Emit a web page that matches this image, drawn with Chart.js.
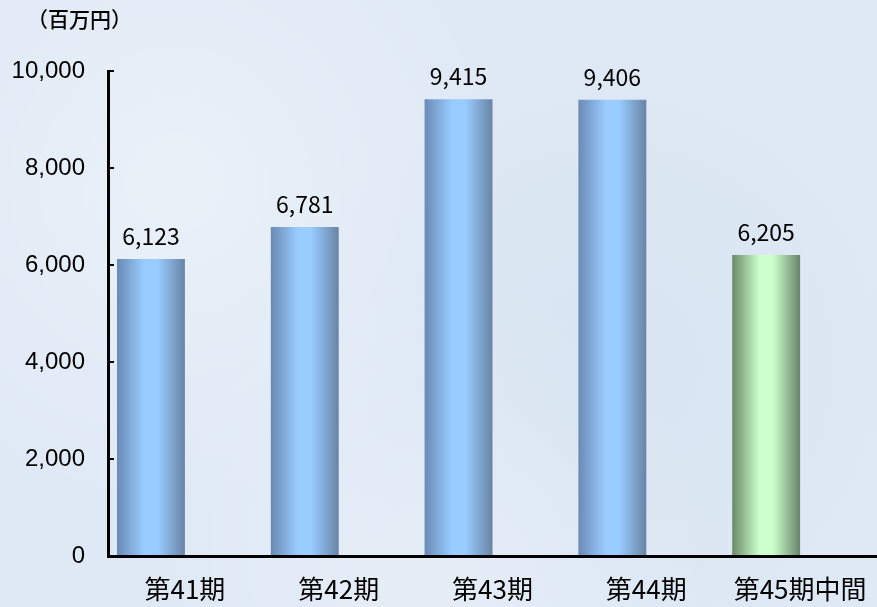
<!DOCTYPE html>
<html>
<head>
<meta charset="utf-8">
<script src="https://cdn.jsdelivr.net/npm/chart.js@4"></script>
<style>
    body { margin: 0; background: #e0eaf6; }
    #wrap { width: 877px; height: 607px; position: relative;
        background:
            radial-gradient(circle at 20% 30%, rgba(255,255,255,0.35), transparent 40%),
            radial-gradient(circle at 70% 60%, rgba(205,220,238,0.35), transparent 45%),
            radial-gradient(circle at 50% 90%, rgba(255,255,255,0.25), transparent 40%),
            #dfe9f5;
    }
</style>
</head>
<body>
<div id="wrap"><canvas id="salesChart"></canvas></div>
<script>
const periods = ['第41期', '第42期', '第43期', '第44期', '第45期中間'];
const sales = [6123, 6781, 9415, 9406, 6205];
const yTicks = [0, 2000, 4000, 6000, 8000, 10000];
const unitLabel = '（百万円）';

const blueStops = ['#6a8ab5', '#99ccff', '#6884a6'];
const greenStops = ['#6a8a6a', '#ccffcc', '#66846a'];

function fmt(v) {
    return v.toLocaleString('en-US');
}

// horizontal shading on each bar, done after layout so the bar position is known
const barShade = {
    id: 'barShade',
    beforeDatasetsDraw(chart) {
        const ctx = chart.ctx;
        const meta = chart.getDatasetMeta(0);
        meta.data.forEach((bar, i) => {
            const left = bar.x - bar.width / 2;
            const stops = i === periods.length - 1 ? greenStops : blueStops;
            const g = ctx.createLinearGradient(left, 0, left + bar.width, 0);
            g.addColorStop(0, stops[0]);
            g.addColorStop(0.4, stops[1]);
            g.addColorStop(0.6, stops[1]);
            g.addColorStop(1, stops[2]);
            bar.options = Object.assign({}, bar.options, { backgroundColor: g });
        });
    }
};

// value above each bar + unit text in the corner
const valueLabels = {
    id: 'valueLabels',
    afterDatasetsDraw(chart) {
        const ctx = chart.ctx;
        const meta = chart.getDatasetMeta(0);
        ctx.save();
        ctx.fillStyle = '#000';
        ctx.textAlign = 'center';
        ctx.textBaseline = 'middle';
        ctx.font = '23px "Noto Sans CJK JP"';
        meta.data.forEach((bar, i) => {
            ctx.fillText(fmt(sales[i]), bar.x, bar.y - 23);
        });
        ctx.textAlign = 'left';
        ctx.font = '500 21px "Noto Sans CJK JP"';
        ctx.fillText(unitLabel, 27, 19);
        ctx.restore();
    }
};

new Chart(document.getElementById('salesChart'), {
    type: 'bar',
    data: {
        labels: periods,
        datasets: [
            { data: sales, backgroundColor: '#99ccff', borderWidth: 0 },
            { data: periods.map(() => null) } // empty slot so the bar sits left of the label
        ]
    },
    options: {
        responsive: true,
        maintainAspectRatio: false,
        animation: false,
        categoryPercentage: 0.883,
        barPercentage: 1,
        layout: { padding: { top: 71, right: 0, left: 0, bottom: 0 } },
        plugins: {
            legend: { display: false },
            tooltip: { enabled: false }
        },
        scales: {
            x: {
                grid: { display: false, drawTicks: false },
                border: { display: true, color: '#000', width: 3 },
                afterFit: (scale) => {
                    scale.height = 51;
                    scale.paddingLeft = 0;
                    scale.paddingRight = 0;
                },
                ticks: {
                    color: '#000',
                    padding: 18,
                    maxRotation: 0,
                    autoSkip: false,
                    font: { family: '"Noto Sans CJK JP"', size: 26 }
                }
            },
            y: {
                min: 0,
                max: 10000,
                afterBuildTicks: (scale) => { scale.ticks = yTicks.map(v => ({ value: v })); },
                afterFit: (scale) => { scale.width = 108; },
                grid: { drawOnChartArea: false, tickLength: -6, tickColor: '#000', lineWidth: 2 },
                border: { display: true, color: '#000', width: 3 },
                ticks: {
                    color: '#000',
                    padding: 29,
                    callback: (v) => fmt(v),
                    font: { family: '"Liberation Sans"', size: 24 }
                }
            }
        }
    },
    plugins: [barShade, valueLabels]
});
</script>
</body>
</html>
